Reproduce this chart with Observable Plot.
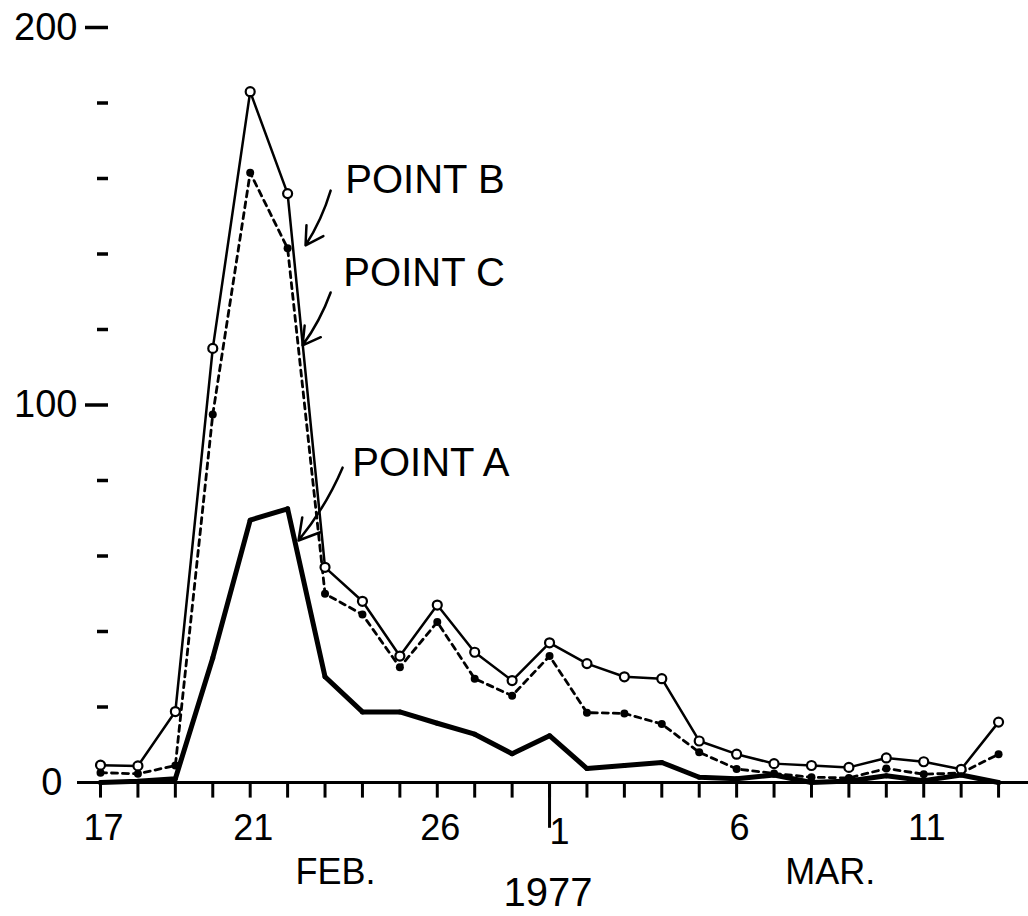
<!DOCTYPE html>
<html><head><meta charset="utf-8">
<script src="https://cdn.jsdelivr.net/npm/d3@7"></script>
<script src="https://cdn.jsdelivr.net/npm/@observablehq/plot@0.6"></script>
<style>
body{margin:0;background:#fff;}
#chart svg{display:block;}
</style></head><body><div id="chart"></div>
<script>
// Days of observation, Feb 17 – Mar 13, 1977
const days = ["1977-02-17","1977-02-18","1977-02-19","1977-02-20","1977-02-21","1977-02-22","1977-02-23","1977-02-24","1977-02-25","1977-02-26","1977-02-27","1977-02-28",
  "1977-03-01","1977-03-02","1977-03-03","1977-03-04","1977-03-05","1977-03-06","1977-03-07","1977-03-08","1977-03-09","1977-03-10","1977-03-11","1977-03-12","1977-03-13"];
const pointA = [0, 0.3, 1, 33, 69.5, 72.5, 28, 18.7, 18.7, 15.7, 12.8, 7.6, 12.4, 3.7, 4.5, 5.3, 1.4, 1, 2, 0, 0.4, 1.8, 0.5, 2, 0];
const pointB = [4.6, 4.4, 18.8, 115, 183, 156, 57, 48, 33.5, 47, 34.5, 27, 37, 31.5, 28, 27.5, 11, 7.5, 5, 4.5, 4, 6.5, 5.5, 3.5, 16];
const pointC = [2.6, 2.3, 4.5, 97.5, 161.5, 141.5, 50, 44.5, 30.5, 42.5, 27.5, 23, 33.5, 18.5, 18.3, 15.5, 8, 3.6, 2.4, 1.4, 1.2, 3.7, 2.2, 2.5, 7.5];

const xLabelDays = ["1977-02-17","1977-02-21","1977-02-26","1977-03-06","1977-03-11"];
const monthStart = ["1977-03-01"];
const yMajorTicks = [100, 200];
const yMinorTicks = [20, 40, 60, 80, 120, 140, 160, 180];
const monthLabels = [{text: "FEB.", date: "1977-02-23T06:45Z"}, {text: "MAR.", date: "1977-03-08T12:00Z"}];
const yearLabel = [{text: "1977", date: "1977-02-28T23:00Z"}];
const annotations = [
  {label: "POINT B", tx: "1977-02-23T13:00Z", ty: 159.5, x1: "1977-02-23T03:36Z", y1: 156.8, x2: "1977-02-22T11:30Z", y2: 142.3},
  {label: "POINT C", tx: "1977-02-23T11:45Z", ty: 135, x1: "1977-02-23T03:36Z", y1: 129.8, x2: "1977-02-22T09:36Z", y2: 115.8},
  {label: "POINT A", tx: "1977-02-23T17:30Z", ty: 84.5, x1: "1977-02-23T11:15Z", y1: 83.4, x2: "1977-02-22T07:00Z", y2: 64.1}
];

const D = s => new Date(s.length > 10 ? s : s + "T00:00Z");
const mk = vals => days.map((d, i) => ({date: D(d), value: vals[i]}));
const dataA = mk(pointA), dataB = mk(pointB), dataC = mk(pointC);
const allDates = days.map(D);
const ann = annotations.map(a => ({...a, tx: D(a.tx), x1: D(a.x1), x2: D(a.x2)}));
const dayMs = 864e5;

const chart = Plot.plot({
  width: 1028,
  height: 916,
  marginLeft: 77,
  marginRight: 0,
  marginTop: 27,
  marginBottom: 134,
  style: {fontFamily: "Liberation Sans, Arial, sans-serif", color: "black", background: "white"},
  x: {type: "utc", axis: null, domain: [new Date(+D(days[0]) - 0.615 * dayMs), new Date(+D(days[days.length - 1]) + 0.8 * dayMs)]},
  y: {domain: [0, 200]},
  marks: [
    Plot.ruleY([0], {strokeWidth: 3}),
    Plot.axisY(yMajorTicks, {tickSize: 23, tickPadding: 8, dx: 31, strokeWidth: 3.5, fontSize: 38, label: null}),
    Plot.axisY(yMinorTicks, {tickSize: 11, dx: 31, strokeWidth: 3.5, tickFormat: () => "", label: null}),
    Plot.axisY([0], {tickSize: 0, tickPadding: 15, fontSize: 38, tickFormat: () => "0", label: null}),
    // Point C (dashed, filled dots)
    Plot.line(dataC, {x: "date", y: "value", strokeWidth: 2.8, strokeDasharray: "6,5"}),
    Plot.dot(dataC, {x: "date", y: "value", r: 4, fill: "black"}),
    // Point B (thin solid, open circles)
    Plot.line(dataB, {x: "date", y: "value", strokeWidth: 2.5}),
    Plot.dot(dataB, {x: "date", y: "value", r: 4.5, fill: "white", stroke: "black", strokeWidth: 2.2}),
    // Point A (thick solid)
    Plot.line(dataA, {x: "date", y: "value", strokeWidth: 5, strokeLinejoin: "round"}),
    Plot.dot(dataA, {x: "date", y: "value", r: 2.5, fill: "black"}),
    // annotations
    Plot.text(ann, {x: "tx", y: "ty", text: "label", textAnchor: "start", fontSize: 40}),
    Plot.arrow(ann, {x1: "x1", y1: "y1", x2: "x2", y2: "y2", strokeWidth: 2.5, headLength: 14, bend: 8}),
    // day ticks below the axis, and the long month-boundary tick
    Plot.link(allDates, {x1: d => d, x2: d => d, y1: () => 0, y2: () => -4, stroke: "black", strokeWidth: 3}),
    Plot.link(monthStart.map(D), {x1: d => d, x2: d => d, y1: () => 0, y2: () => -12, stroke: "black", strokeWidth: 3}),
    Plot.text(xLabelDays.map(D), {x: d => d, y: 0, dy: 46, dx: 3, fontSize: 36, text: d => String(d.getUTCDate())}),
    Plot.text(monthStart.map(D), {x: d => d, y: 0, dy: 50, dx: 10, fontSize: 36, text: d => String(d.getUTCDate())}),
    // bottom labels
    Plot.text(monthLabels, {x: d => D(d.date), y: 0, dy: 90, text: "text", fontSize: 36}),
    Plot.text(yearLabel, {x: d => D(d.date), y: 0, dy: 111, text: "text", fontSize: 40})
  ]
});
document.getElementById("chart").append(chart);
</script>
</body></html>
